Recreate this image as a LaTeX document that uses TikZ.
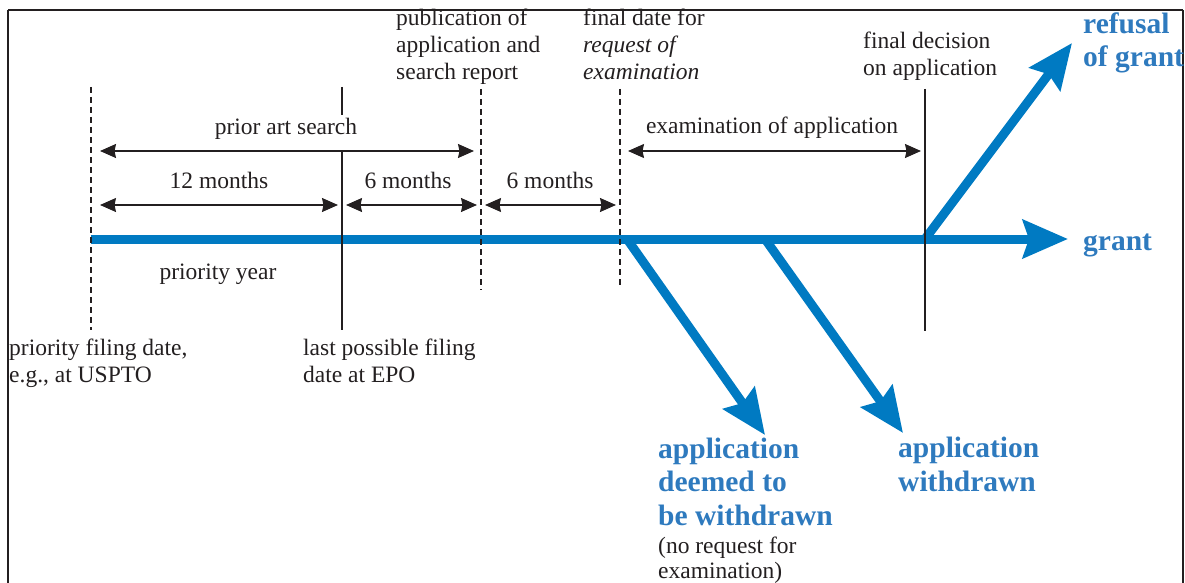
\documentclass[tikz,border=0pt]{standalone}
\usepackage{fontspec}
\setmainfont{Liberation Serif}
\usetikzlibrary{arrows.meta}
\definecolor{bline}{RGB}{0,122,194}
\definecolor{btext}{RGB}{46,122,190}
\definecolor{ink}{RGB}{35,31,32}
\begin{document}
\begin{tikzpicture}[x=1pt,y=-1pt,
 lbl/.style={font=\fontsize{23.5}{27}\selectfont, text=ink, inner sep=0pt, align=left},
 blbl/.style={font=\fontsize{29.5}{33.5}\selectfont\bfseries, text=btext, inner sep=0pt, align=left},
 vline/.style={draw=ink, line width=1.4pt},
 dline/.style={vline, dash pattern=on 6pt off 4pt},
 dimarrow/.style={draw=ink, line width=1.3pt, {Stealth[length=16pt,width=14pt,inset=1.5pt]}-{Stealth[length=16pt,width=14pt,inset=1.5pt]}},
 flow/.style={draw=bline, line width=9pt, -{Stealth[length=45pt,width=38pt,inset=6pt]}},
]
\useasboundingbox (0,0) rectangle (1185,583);
% frame
\coordinate (fbl) at (8,583);
\coordinate (ftl) at (8,10);
\coordinate (ftr) at (1183,10);
\coordinate (fbr) at (1183,583);
\draw[ink, line width=2.6pt] (fbl) -- (ftl);
\draw[ink, line width=2pt] (ftl) -- (ftr);
\draw[ink, line width=1.4pt] (ftr) -- (fbr);

% blue flow
\coordinate (s0) at (91,239);
\coordinate (b1) at (627,239);
\coordinate (b2) at (765,239);
\coordinate (b3) at (925,239);
\coordinate (g) at (1068,239);
\coordinate (t1) at (765,435);
\coordinate (t2) at (903,433);
\coordinate (t3) at (1072,43);
\draw[flow] (s0) -- (g);
\draw[flow] (b1) -- (t1);
\draw[flow] (b2) -- (t2);
\draw[flow] (b3) -- (t3);

% vertical lines
\coordinate (v1a) at (91,87);   \coordinate (v1b) at (91,330);
\coordinate (v2a) at (342,87);  \coordinate (v2m) at (342,115);
\coordinate (v2n) at (342,151); \coordinate (v2b) at (342,330);
\coordinate (v3a) at (481,89);  \coordinate (v3b) at (481,290);
\coordinate (v4a) at (620,89);  \coordinate (v4b) at (620,288);
\coordinate (v5a) at (925,89);  \coordinate (v5b) at (925,331);
\draw[dline] (v1a) -- (v1b);
\draw[vline] (v2a) -- (v2m);
\draw[vline] (v2n) -- (v2b);
\draw[dline] (v3a) -- (v3b);
\draw[dline] (v4a) -- (v4b);
\draw[vline] (v5a) -- (v5b);

% dimension arrows
\coordinate (pa1) at (100,151); \coordinate (pa2) at (474,151);
\coordinate (m1a) at (100,205); \coordinate (m1b) at (338,205);
\coordinate (m2a) at (346,205); \coordinate (m2b) at (477,205);
\coordinate (m3a) at (485,205); \coordinate (m3b) at (616,205);
\coordinate (ea) at (628,151);  \coordinate (eb) at (921,151);
\draw[dimarrow] (pa1) -- (pa2);
\draw[dimarrow] (m1a) -- (m1b);
\draw[dimarrow] (m2a) -- (m2b);
\draw[dimarrow] (m3a) -- (m3b);
\draw[dimarrow] (ea) -- (eb);

% labels (multi-line nodes: base = baseline of last line)
\node[lbl, anchor=base] (pas) at (286,135) {prior art search};
\node[lbl, anchor=base] (m12) at (219,188) {12 months};
\node[lbl, anchor=base] (m6a) at (408,188) {6 months};
\node[lbl, anchor=base] (m6b) at (550,188) {6 months};
\node[lbl, anchor=base] (exa) at (772,134) {examination of application};
\node[lbl, anchor=base] (py) at (218,279) {priority year};
\node[lbl, anchor=base west] (pub) at (396,80) {publication of\\application and\\search report};
\node[lbl, anchor=base west] (fdr) at (583,80) {final date for\\\itshape request of\\\itshape examination};
\node[lbl, anchor=base west] (fdc) at (863,76) {final decision\\on application};
\node[lbl, anchor=base west] (pfd) at (9,382) {priority filing date,\\e.g., at USPTO};
\node[lbl, anchor=base west] (lpf) at (303,382) {last possible filing\\date at EPO};
\node[lbl, anchor=base west, font=\fontsize{23.5}{25}\selectfont] (noreq) at (658,578) {(no request for\\examination)};

\node[blbl, anchor=base west] (grant) at (1083,250) {grant};
\node[blbl, anchor=base west] (refuse) at (1083,67) {refusal\\of grant};
\node[blbl, anchor=base west] (deemed) at (658,525) {application\\deemed to\\be withdrawn};
\node[blbl, anchor=base west] (wd) at (898,491) {application\\withdrawn};
\end{tikzpicture}
\end{document}
